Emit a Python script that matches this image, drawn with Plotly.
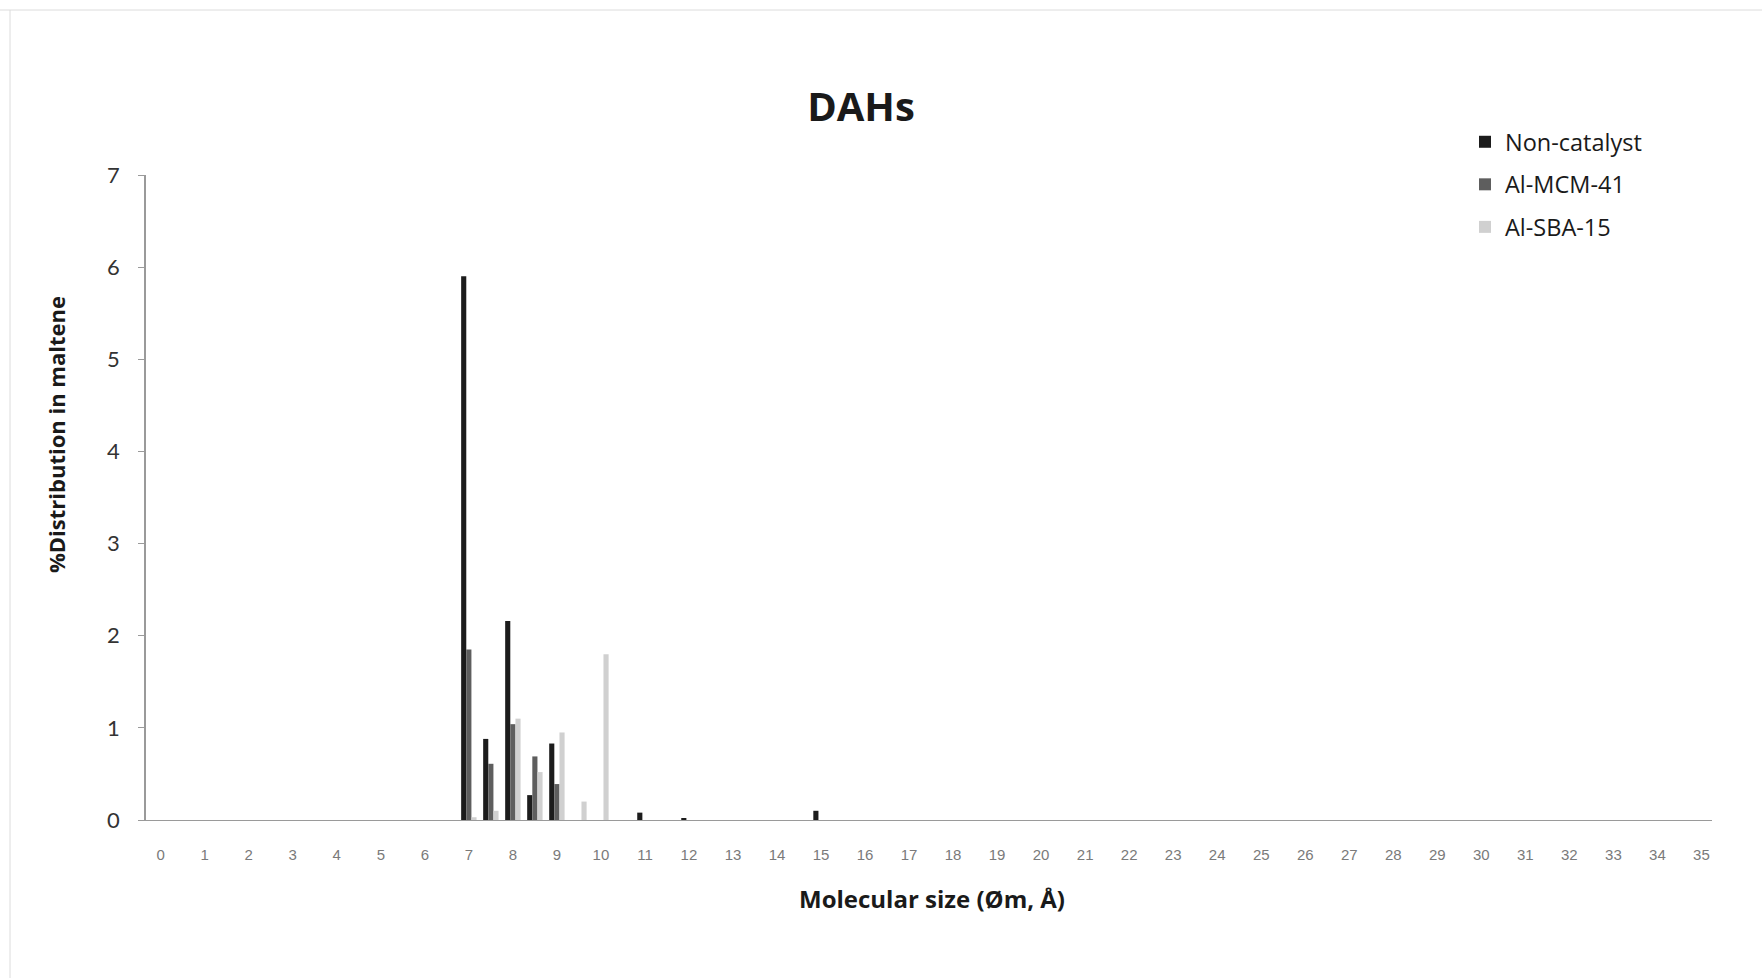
import plotly.graph_objects as go

# Data
sizes = [7, 7.5, 8, 8.5, 9, 9.5, 10, 11, 12, 15]
non_catalyst = [5.90, 0.88, 2.16, 0.27, 0.83, 0.0, 0.0, 0.08, 0.02, 0.10]
al_mcm_41 = [1.85, 0.61, 1.04, 0.69, 0.39, 0.0, 0.0, 0.0, 0.0, 0.0]
al_sba_15 = [0.03, 0.10, 1.10, 0.52, 0.95, 0.20, 1.80, 0.0, 0.0, 0.0]
series_names = ["Non-catalyst", "Al-MCM-41", "Al-SBA-15"]
series_colors = ["#1c1c1c", "#5e5e5e", "#d0d0d0"]

FONT = "Lato"
BOLD = "Open Sans"

fig = go.Figure()
for i, (name, vals, col) in enumerate(zip(series_names,
                                          [non_catalyst, al_mcm_41, al_sba_15],
                                          series_colors)):
    fig.add_trace(go.Bar(x=sizes, y=vals, name=name, marker_color=col,
                         marker_line_width=0, legendgroup=f"g{i}"))

W, H = 1762, 978
L, R, T, B = 146, 50, 175, 158

fig.update_layout(
    width=W, height=H,
    margin=dict(l=L, r=R, t=T, b=B, pad=0),
    paper_bgcolor="white", plot_bgcolor="white",
    barmode="group", bargap=0.3, bargroupgap=0,
    font=dict(family=FONT, color="#222"),
    title=dict(text="<b>DAHs</b>", x=861 / W, xref="container", xanchor="center",
               y=1 - 107 / H, yref="container", yanchor="middle",
               font=dict(family=BOLD, size=40, color="#1a1a1a")),
    showlegend=True,
    legend=dict(x=(1465 - L) / (W - L - R), y=(820 - 120) / 645, xanchor="left", yanchor="top",
                traceorder="grouped", tracegroupgap=9,
                font=dict(family=BOLD, size=23.5, color="#1a1a1a"),
                bgcolor="rgba(0,0,0,0)"),
    xaxis=dict(range=[-0.334, 35.24], tick0=0, dtick=1, showgrid=False, zeroline=False,
               showline=True, linecolor="#9a9a9a", linewidth=1, ticks="",
               tickfont=dict(family="Liberation Sans", size=15, color="#7a7a7a"),
               ticklabelstandoff=21),
    yaxis=dict(range=[0, 7], dtick=1, showgrid=False, zeroline=False,
               showline=True, linecolor="#9a9a9a", linewidth=1.5,
               ticks="outside", ticklen=6, tickcolor="#9a9a9a",
               tickfont=dict(family=FONT, size=22, color="#333"),
               ticklabelstandoff=14),
    annotations=[
        dict(text="<b>Molecular size (Øm, Å)</b>", x=(932 - L) / (W - L - R), y=(820 - 898) / 645,
             xref="paper", yref="paper", showarrow=False, xanchor="center", yanchor="middle",
             font=dict(family=BOLD, size=24, color="#1a1a1a")),
        dict(text="<b>%Distribution in maltene</b>", x=(56 - L) / (W - L - R), y=(820 - 435) / 645,
             xref="paper", yref="paper", showarrow=False, xanchor="center", yanchor="middle",
             textangle=-90, font=dict(family=BOLD, size=22, color="#1a1a1a")),
    ],
    shapes=[
        dict(type="line", xref="paper", yref="paper", x0=-L / (W - L - R), x1=1 + R / (W - L - R),
             y0=(820 - 10) / 645, y1=(820 - 10) / 645, line=dict(color="#dcdcdc", width=1)),
        dict(type="line", xref="paper", yref="paper", x0=(10 - L) / (W - L - R), x1=(10 - L) / (W - L - R),
             y0=(820 - 10) / 645, y1=(820 - 978) / 645, line=dict(color="#dcdcdc", width=1)),
    ],
)

fig.write_html("out.html")
